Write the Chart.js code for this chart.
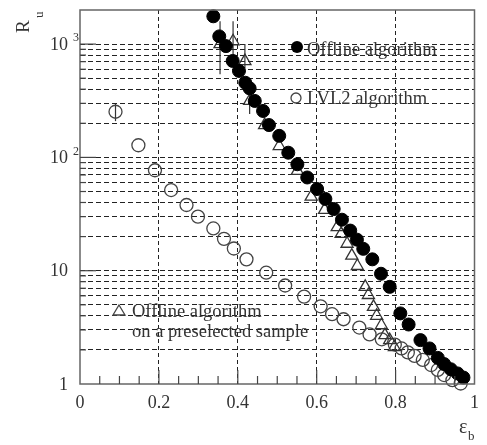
<!DOCTYPE html>
<html>
<head>
<meta charset="utf-8">
<script src="https://cdn.jsdelivr.net/npm/chart.js@4.4.0/dist/chart.umd.min.js"></script>
<style>
  html, body { margin: 0; padding: 0; background: #fff; }
</style>
</head>
<body>
<canvas id="myChart" width="487" height="445"></canvas>
<script>
// efficiency (x) and rejection (y)
var offlineX = [0.338,0.353,0.370,0.387,0.403,0.419,0.430,0.443,0.464,0.479,0.505,0.528,0.551,0.576,0.601,0.622,0.643,0.664,0.685,0.702,0.718,0.741,0.763,0.785,0.812,0.833,0.863,0.886,0.907,0.923,0.940,0.957,0.972];
var offlineY = [1760,1170,960,710,580,456,407,315,257,193,155,110,87,66.5,52.6,43,35,28.2,22.6,18.8,15.6,12.6,9.4,7.2,4.2,3.35,2.44,2.06,1.70,1.50,1.35,1.24,1.14];

var preselX = [0.355,0.388,0.418,0.430,0.468,0.505,0.551,0.586,0.620,0.652,0.662,0.677,0.689,0.703,0.723,0.731,0.744,0.752,0.764,0.773,0.785,0.797];
var preselY = [1000,1060,707,315,193,126,76,45,34.4,24.2,21.1,17.3,13.6,11.0,7.2,6.1,4.8,4.0,3.3,2.7,2.44,2.12];

var lvl2X = [0.090,0.148,0.190,0.231,0.270,0.299,0.338,0.365,0.390,0.422,0.472,0.520,0.568,0.610,0.639,0.668,0.708,0.734,0.765,0.798,0.815,0.831,0.848,0.869,0.890,0.907,0.923,0.944,0.965];
var lvl2Y = [253,128,77,51.5,38,30,23.6,19.1,15.7,12.6,9.6,7.4,5.9,4.85,4.13,3.73,3.15,2.74,2.48,2.23,2.06,1.90,1.77,1.63,1.47,1.33,1.20,1.08,1.01];

// error bars: [x, low, high]
var preselErr = [[0.355,543,1590],[0.388,800,1590],[0.418,616,1000],[0.430,242,400]];
var lvl2Err = [[0.090,209,296]];

var xTickVals = [0, 0.2, 0.4, 0.6, 0.8, 1];
var xTickLabels = ['0', '0.2', '0.4', '0.6', '0.8', '1'];
var yTickVals = [1, 10, 100, 1000];
var yTickLabels = ['1', '10', '10', '10'];
var yTickExp = ['', '', '2', '3'];

function pts(xs, ys) {
  var out = [];
  for (var i = 0; i < xs.length; i++) out.push({x: xs[i], y: ys[i]});
  return out;
}

var serif = '"Liberation Serif", "DejaVu Serif", serif';
var textCol = '#333';

var decor = {
  id: 'decor',
  beforeDatasetsDraw: function(chart) {
    var ctx = chart.ctx, xs = chart.scales.x, ys = chart.scales.y;
    ctx.save();
    ctx.strokeStyle = '#333';
    ctx.lineWidth = 1.2;
    preselErr.concat(lvl2Err).forEach(function(e) {
      var px = xs.getPixelForValue(e[0]);
      ctx.beginPath();
      ctx.moveTo(px, ys.getPixelForValue(e[1]));
      ctx.lineTo(px, ys.getPixelForValue(e[2]));
      ctx.stroke();
    });
    ctx.restore();
  },
  afterDraw: function(chart) {
    var ctx = chart.ctx, a = chart.chartArea, xs = chart.scales.x, ys = chart.scales.y;
    ctx.save();
    // frame
    ctx.strokeStyle = '#666';
    ctx.lineWidth = 1.5;
    ctx.strokeRect(a.left, a.top, a.right - a.left, a.bottom - a.top);

    // inside ticks
    ctx.strokeStyle = '#444';
    ctx.lineWidth = 1.2;
    for (var i = 1; i < 20; i++) {
      var px = xs.getPixelForValue(i * 0.05);
      var len = (i % 4 === 0) ? 14 : 8;
      ctx.beginPath(); ctx.moveTo(px, a.bottom); ctx.lineTo(px, a.bottom - len); ctx.stroke();
    }
    for (var d = 1; d <= 1000; d *= 10) {
      for (var k = 1; k < 10; k++) {
        var v = d * k;
        if (v <= 1 || v >= 2000) continue;
        var py = ys.getPixelForValue(v);
        var l = (k === 1) ? 16 : 6;
        ctx.beginPath(); ctx.moveTo(a.left, py); ctx.lineTo(a.left + l, py); ctx.stroke();
      }
    }

    // y tick labels
    ctx.fillStyle = textCol;
    ctx.textBaseline = 'middle';
    yTickVals.forEach(function(v, i) {
      var py = ys.getPixelForValue(v);
      ctx.font = '18px ' + serif;
      ctx.textAlign = 'right';
      ctx.fillText(yTickLabels[i], 68, py + 1);
      if (yTickExp[i]) {
        ctx.font = '12px ' + serif;
        ctx.textAlign = 'left';
        ctx.fillText(yTickExp[i], 73, py - 6);
      }
    });

    // axis titles
    ctx.textAlign = 'left';
    ctx.textBaseline = 'alphabetic';
    ctx.save();
    ctx.translate(29, 33);
    ctx.rotate(-Math.PI / 2);
    ctx.font = '19px ' + serif;
    ctx.fillText('R', 0, 0);
    ctx.font = '13px ' + serif;
    ctx.fillText('u', 15, 14);
    ctx.restore();
    ctx.font = '20px ' + serif;
    ctx.fillText('\u03b5', 459, 433);
    ctx.font = '13px ' + serif;
    ctx.fillText('b', 468, 440);

    // in-plot legend
    ctx.fillStyle = '#000';
    ctx.beginPath(); ctx.arc(297, 47, 6, 0, Math.PI * 2); ctx.fill();
    ctx.strokeStyle = '#444';
    ctx.lineWidth = 1.3;
    ctx.beginPath(); ctx.arc(296, 98, 5, 0, Math.PI * 2); ctx.stroke();
    ctx.beginPath();
    ctx.moveTo(119, 305); ctx.lineTo(125, 315); ctx.lineTo(113, 315); ctx.closePath();
    ctx.stroke();
    ctx.fillStyle = textCol;
    ctx.font = '18.5px ' + serif;
    ctx.textBaseline = 'middle';
    ctx.fillText('Offline algorithm', 307, 50);
    ctx.fillText('LVL2 algorithm', 307, 99);
    ctx.fillText('Offline algorithm', 132, 312);
    ctx.fillText('on a preselected sample', 132, 332);
    ctx.restore();
  }
};

var ctx = document.getElementById('myChart').getContext('2d');
var myChart = new Chart(ctx, {
  type: 'scatter',
  data: {
    datasets: [{
      label: 'Offline algorithm',
      data: pts(offlineX, offlineY),
      pointStyle: 'circle',
      pointRadius: 6.5,
      backgroundColor: '#000',
      borderColor: '#000',
      borderWidth: 1,
      clip: false
    }, {
      label: 'Offline algorithm on a preselected sample',
      data: pts(preselX, preselY),
      pointStyle: 'triangle',
      pointRadius: 7,
      backgroundColor: 'rgba(0,0,0,0)',
      borderColor: '#333',
      borderWidth: 1.3,
      clip: false
    }, {
      label: 'LVL2 algorithm',
      data: pts(lvl2X, lvl2Y),
      pointStyle: 'circle',
      pointRadius: 6.5,
      backgroundColor: 'rgba(0,0,0,0)',
      borderColor: '#444',
      borderWidth: 1.3,
      clip: false
    }]
  },
  options: {
    responsive: false,
    animation: false,
    devicePixelRatio: 1,
    layout: { padding: { top: 10, right: 8, left: 0, bottom: 0 } },
    plugins: { legend: { display: false }, tooltip: { enabled: false } },
    scales: {
      x: {
        type: 'linear',
        min: 0,
        max: 1,
        afterFit: function(s) { s.height = 61; },
        afterBuildTicks: function(s) { s.ticks = xTickVals.map(function(v) { return {value: v}; }); },
        ticks: {
          padding: 8,
          color: textCol,
          font: { family: serif, size: 18 },
          maxRotation: 0,
          autoSkip: false,
          callback: function(v) {
            var i = xTickVals.indexOf(v);
            return i >= 0 ? xTickLabels[i] : '';
          }
        },
        grid: {
          drawTicks: false,
          lineWidth: 1,
          color: function(c) {
            var v = c.tick ? c.tick.value : 0;
            return (v > 0.01 && v < 0.99) ? '#222' : 'rgba(0,0,0,0)';
          }
        },
        border: { display: false, dash: [4, 3] }
      },
      y: {
        type: 'logarithmic',
        min: 1,
        max: 2000,
        afterFit: function(s) { s.width = 80; },
        afterBuildTicks: function(s) {
          var t = [];
          for (var d = 1; d <= 1000; d *= 10) {
            for (var k = 1; k < 10; k++) { if (d * k <= 2000) t.push({value: d * k}); }
          }
          t.push({value: 2000});
          s.ticks = t;
        },
        ticks: { display: false },
        grid: {
          drawTicks: false,
          lineWidth: 1,
          color: function(c) {
            var v = c.tick ? c.tick.value : 1;
            return (v > 1 && v < 2000) ? '#222' : 'rgba(0,0,0,0)';
          }
        },
        border: { display: false, dash: [5, 3] }
      }
    }
  },
  plugins: [decor]
});
</script>
</body>
</html>
